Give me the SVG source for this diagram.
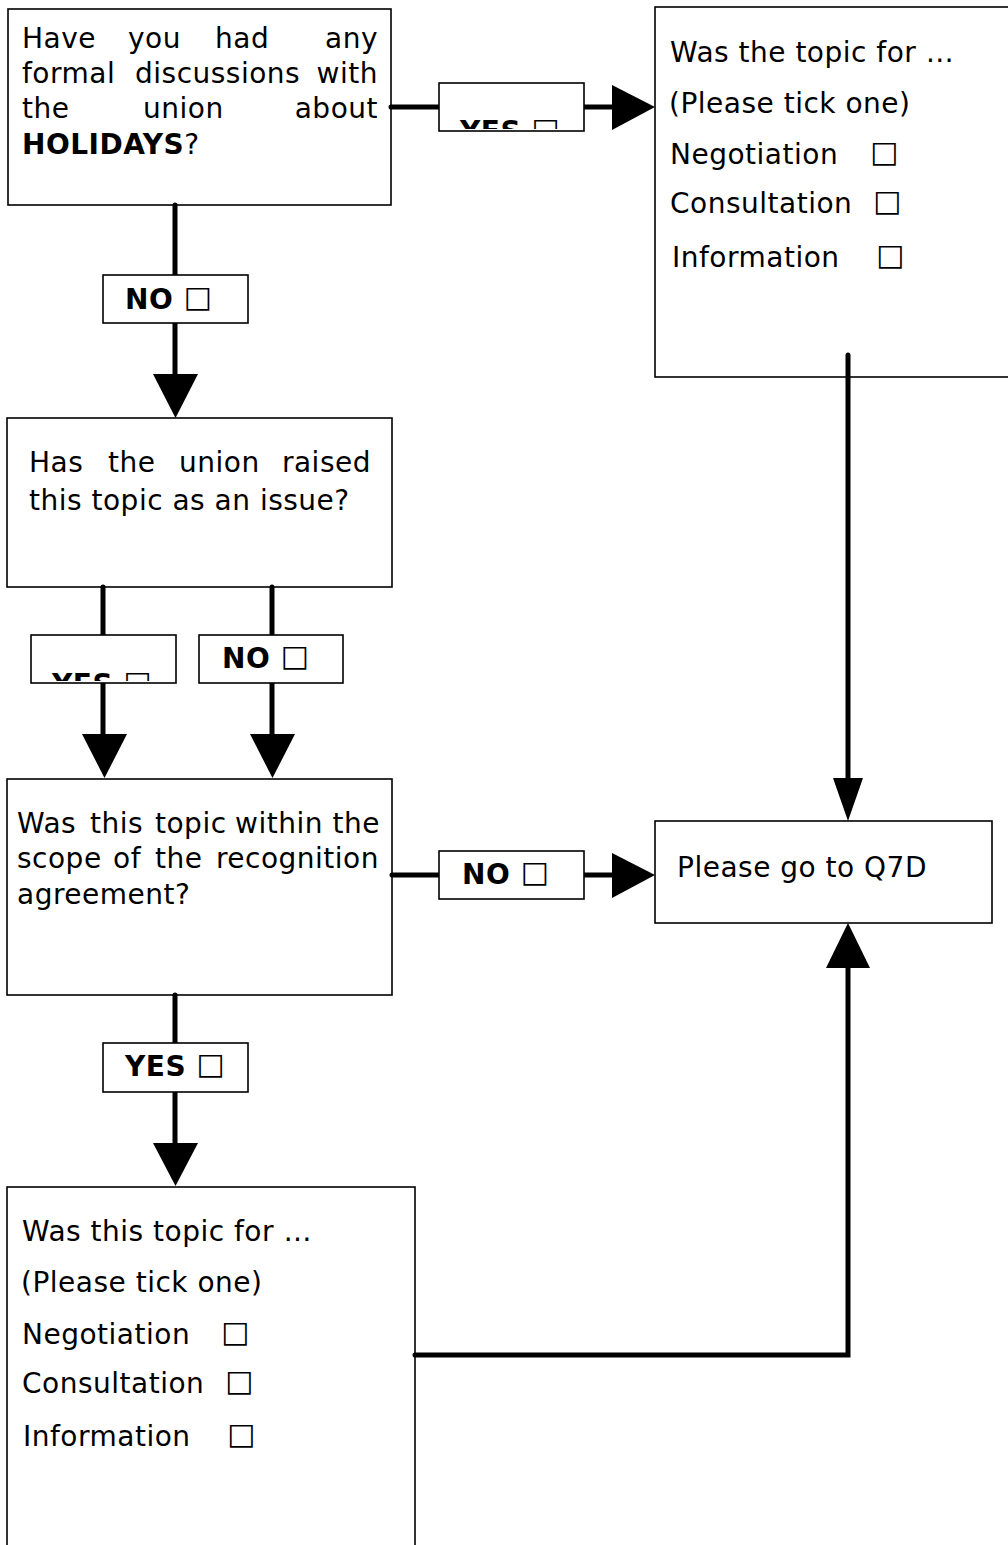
<svg xmlns="http://www.w3.org/2000/svg" width="1008" height="1545" viewBox="0 0 1008 1545">
<style>
.node{fill:#fff;stroke:#000;stroke-width:1.6}
.lbl{fill:#fff;stroke:#000;stroke-width:1.6}
.t{font-family:"DejaVu Sans",Verdana,sans-serif;font-size:28px;letter-spacing:0.5px;fill:#000}
.b{font-family:"DejaVu Sans",Verdana,sans-serif;font-size:28px;font-weight:bold;letter-spacing:0.5px;fill:#000}
.sq{font-family:"DejaVu Sans",sans-serif;font-weight:normal;font-size:30px;letter-spacing:0}
.e{text-anchor:end}
.ln{stroke:#000;stroke-width:5;fill:none;stroke-linecap:round}
.ah{fill:#000}
</style>
<defs>
<clipPath id="c1"><rect x="440" y="84" width="143" height="45"/></clipPath>
<clipPath id="c2"><rect x="32" y="636" width="143" height="45"/></clipPath>
</defs>
<g id="n1">
<rect class="node" x="8" y="9" width="383" height="196"/>
<text class="t" y="48"><tspan x="22">Have</tspan><tspan x="128">you</tspan><tspan x="215">had</tspan><tspan class="e" x="378">any</tspan></text>
<text class="t" y="83"><tspan x="22">formal</tspan><tspan x="135">discussions</tspan><tspan class="e" x="378">with</tspan></text>
<text class="t" y="118"><tspan x="22">the</tspan><tspan x="143">union</tspan><tspan class="e" x="378">about</tspan></text>
<text class="t" x="22" y="154"><tspan font-weight="bold">HOLIDAYS</tspan>?</text>
</g>
<g id="n2">
<rect class="node" x="655" y="7" width="360" height="370"/>
<text class="t" x="670" y="62">Was the topic for …</text>
<text class="t" x="669" y="113">(Please tick one)</text>
<text class="t" y="164"><tspan x="670">Negotiation</tspan><tspan class="sq" x="870" dy="-2">□</tspan></text>
<text class="t" y="213"><tspan x="670">Consultation</tspan><tspan class="sq" x="873" dy="-2">□</tspan></text>
<text class="t" y="267"><tspan x="672">Information</tspan><tspan class="sq" x="876" dy="-2">□</tspan></text>
</g>
<g id="n3">
<rect class="node" x="7" y="418" width="385" height="169"/>
<text class="t" y="472"><tspan x="29">Has</tspan><tspan x="108">the</tspan><tspan x="179">union</tspan><tspan class="e" x="371">raised</tspan></text>
<text class="t" x="29" y="510">this topic as an issue?</text>
</g>
<g id="n4">
<rect class="node" x="7" y="779" width="385" height="216"/>
<text class="t" y="833"><tspan x="17">Was</tspan><tspan x="90">this</tspan><tspan x="155">topic</tspan><tspan x="235">within</tspan><tspan class="e" x="380">the</tspan></text>
<text class="t" y="868"><tspan x="17">scope</tspan><tspan x="113">of</tspan><tspan x="155">the</tspan><tspan class="e" x="379">recognition</tspan></text>
<text class="t" x="17" y="904">agreement?</text>
</g>
<g id="n5">
<rect class="node" x="655" y="821" width="337" height="102"/>
<text class="t" x="677" y="877">Please go to Q7D</text>
</g>
<g id="n6">
<rect class="node" x="7" y="1187" width="408" height="380"/>
<text class="t" x="22" y="1241">Was this topic for …</text>
<text class="t" x="21" y="1292">(Please tick one)</text>
<text class="t" y="1344"><tspan x="22">Negotiation</tspan><tspan class="sq" x="221" dy="-2">□</tspan></text>
<text class="t" y="1393"><tspan x="22">Consultation</tspan><tspan class="sq" x="225" dy="-2">□</tspan></text>
<text class="t" y="1446"><tspan x="23">Information</tspan><tspan class="sq" x="227" dy="-2">□</tspan></text>
</g>
<g id="connectors">
<path class="ln" d="M391 107H439M584 107H612"/>
<polygon class="ah" points="612,85 655,107 612,130"/>
<path class="ln" d="M175 205V275M175 323V374"/>
<polygon class="ah" points="153,374 198,374 175.5,418"/>
<path class="ln" d="M103 587V635M103 683V734"/>
<polygon class="ah" points="82,734 127,734 104.5,778"/>
<path class="ln" d="M272 587V635M272 683V734"/>
<polygon class="ah" points="250,734 295,734 272.5,778"/>
<path class="ln" d="M392 875H439M584 875H612"/>
<polygon class="ah" points="612,853 655,875 612,898"/>
<path class="ln" d="M175 995V1043M175 1092V1143"/>
<polygon class="ah" points="153,1143 198,1143 175.5,1186"/>
<path class="ln" d="M848 355V778"/>
<polygon class="ah" points="833,778 863,778 848,821"/>
<path class="ln" d="M415 1355H848V968"/>
<polygon class="ah" points="826,968 870,968 848,923"/>
<g id="lbl-yes1">
<rect class="lbl" x="439" y="83" width="145" height="48"/>
<text class="b" x="460" y="141" clip-path="url(#c1)">YES <tspan class="sq" dy="-2">□</tspan></text>
</g>
<g id="lbl-no1">
<rect class="lbl" x="103" y="275" width="145" height="48"/>
<text class="b" x="125" y="309">NO <tspan class="sq" dy="-2">□</tspan></text>
</g>
<g id="lbl-yes2">
<rect class="lbl" x="31" y="635" width="145" height="48"/>
<text class="b" x="52" y="694" clip-path="url(#c2)">YES <tspan class="sq" dy="-2">□</tspan></text>
</g>
<g id="lbl-no2">
<rect class="lbl" x="199" y="635" width="144" height="48"/>
<text class="b" x="222" y="668">NO <tspan class="sq" dy="-2">□</tspan></text>
</g>
<g id="lbl-no3">
<rect class="lbl" x="439" y="851" width="145" height="48"/>
<text class="b" x="462" y="884">NO <tspan class="sq" dy="-2">□</tspan></text>
</g>
<g id="lbl-yes3">
<rect class="lbl" x="103" y="1043" width="145" height="49"/>
<text class="b" x="125" y="1076">YES <tspan class="sq" dy="-2">□</tspan></text>
</g>
</g>
</svg>
